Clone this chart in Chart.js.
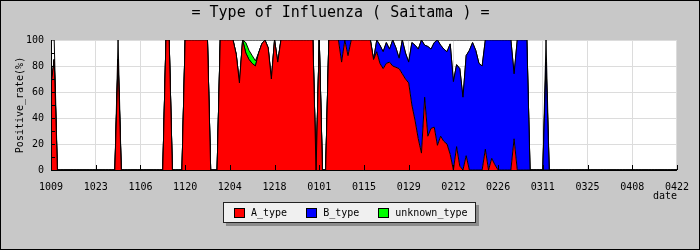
<!DOCTYPE html>
<html>
<head>
<meta charset="utf-8">
<script src="https://cdn.jsdelivr.net/npm/chart.js@4.4.1/dist/chart.umd.min.js"></script>
<style>
  html, body { margin: 0; padding: 0; background: #c8c8c8; }
  #wrap { position: relative; width: 700px; height: 250px; }
  #chart { position: absolute; left: 0; top: 0; }
  #legend {
    position: absolute; left: 223px; top: 202px; width: 241px; height: 19px;
    background: #f0f0f0; border: 1px solid #222; box-shadow: 3px 3px 0 #8c8c8c;
    display: flex; align-items: center; padding-left: 10px; box-sizing: content-box;
    font: 10px 'DejaVu Sans Mono', monospace; color: #000;
  }
  #legend .item { display: flex; align-items: center; margin-right: 19px; }
  #legend .box { width: 9px; height: 8px; border: 1px solid #000; margin-right: 6px; }
</style>
</head>
<body>
<div id="wrap">
  <canvas id="chart" width="700" height="250"></canvas>
  <div id="legend"></div>
</div>
<script>
// tick labels every 14 days, 2023-10-09 .. 2024-04-22
var tickLabels = ['1009', '1023', '1106', '1120', '1204', '1218', '0101',
                  '0115', '0129', '0212', '0226', '0311', '0325', '0408', '0422'];

// one value per day, one row per two weeks
var aType = [
  65, 85, 0, 0, 0, 0, 0, 0, 0, 0, 0, 0, 0, 0,
  0, 0, 0, 0, 0, 0, 0, 85, 0, 0, 0, 0, 0, 0,
  0, 0, 0, 0, 0, 0, 0, 0, 100, 100, 0, 0, 0, 0,
  100, 100, 100, 100, 100, 100, 100, 100, 0, 0, 0, 100, 100, 100,
  100, 100, 89, 67, 100, 90, 85, 82, 80, 90, 97, 100, 94, 70,
  100, 83, 100, 100, 100, 100, 100, 100, 100, 100, 100, 100, 100, 0,
  100, 0, 0, 100, 100, 100, 100, 83, 100, 88, 100, 100, 100, 100,
  100, 100, 100, 85, 91, 82, 78, 82, 83, 80, 79, 78, 74, 70,
  67, 50, 38, 24, 13, 56, 26, 32, 33, 19, 26, 22, 20, 12,
  0, 18, 3, 0, 11, 0, 0, 0, 0, 0, 16, 0, 9, 4,
  0, 0, 0, 0, 0, 24, 0, 0, 0, 0, 0, 0, 0, 0,
  0, 0, 0, 0, 0, 0, 0, 0, 0, 0, 0, 0, 0, 0,
  0, 0, 0, 0, 0, 0, 0, 0, 0, 0, 0, 0, 0, 0,
  0, 0, 0, 0, 0, 0, 0, 0, 0, 0, 0, 0, 0, 0,
  0
];

var bType = [
  0, 0, 0, 0, 0, 0, 0, 0, 0, 0, 0, 0, 0, 0,
  0, 0, 0, 0, 0, 0, 0, 0, 0, 0, 0, 0, 0, 0,
  0, 0, 0, 0, 0, 0, 0, 0, 0, 0, 0, 0, 0, 0,
  0, 0, 0, 0, 0, 0, 0, 0, 0, 0, 0, 0, 0, 0,
  0, 0, 0, 0, 0, 0, 0, 0, 0, 0, 0, 0, 0, 0,
  0, 0, 0, 0, 0, 0, 0, 0, 0, 0, 0, 0, 0, 0,
  0, 0, 0, 0, 0, 0, 0, 17, 0, 12, 0, 0, 0, 0,
  0, 0, 0, 0, 9, 14, 13, 16, 10, 20, 15, 8, 26, 20,
  16, 48, 58, 69, 87, 40, 69, 61, 65, 81, 70, 71, 71, 85,
  68, 63, 75, 56, 77, 92, 98, 92, 82, 80, 84, 100, 91, 96,
  100, 100, 100, 100, 100, 50, 100, 100, 100, 100, 0, 0, 0, 0,
  0, 83, 0, 0, 0, 0, 0, 0, 0, 0, 0, 0, 0, 0,
  0, 0, 0, 0, 0, 0, 0, 0, 0, 0, 0, 0, 0, 0,
  0, 0, 0, 0, 0, 0, 0, 0, 0, 0, 0, 0, 0, 0,
  0
];

var unknownType = [
  0, 0, 0, 0, 0, 0, 0, 0, 0, 0, 0, 0, 0, 0,
  0, 0, 0, 0, 0, 0, 0, 0, 0, 0, 0, 0, 0, 0,
  0, 0, 0, 0, 0, 0, 0, 0, 0, 0, 0, 0, 0, 0,
  0, 0, 0, 0, 0, 0, 0, 0, 0, 0, 0, 0, 0, 0,
  0, 0, 0, 0, 0, 8, 7, 6, 4, 0, 0, 0, 0, 0,
  0, 0, 0, 0, 0, 0, 0, 0, 0, 0, 0, 0, 0, 0,
  0, 0, 0, 0, 0, 0, 0, 0, 0, 0, 0, 0, 0, 0,
  0, 0, 0, 0, 0, 0, 0, 0, 0, 0, 0, 0, 0, 0,
  0, 0, 0, 0, 0, 0, 0, 0, 0, 0, 0, 0, 0, 0,
  0, 0, 0, 0, 0, 0, 0, 0, 0, 0, 0, 0, 0, 0,
  0, 0, 0, 0, 0, 0, 0, 0, 0, 0, 0, 0, 0, 0,
  0, 0, 0, 0, 0, 0, 0, 0, 0, 0, 0, 0, 0, 0,
  0, 0, 0, 0, 0, 0, 0, 0, 0, 0, 0, 0, 0, 0,
  0, 0, 0, 0, 0, 0, 0, 0, 0, 0, 0, 0, 0, 0,
  0
];

// days (first..last, counted from 1009) on which a report exists
var reportedDays = [[0, 1], [21, 21], [36, 37], [42, 49], [53, 82],
                    [84, 84], [87, 149], [155, 155]];

var seriesNames = ['A_type', 'B_type', 'unknown_type'];
var seriesColors = ['#ff0000', '#0000ff', '#00ff00'];

// x positions are day numbers from the first date
var days = aType.map(function (_, i) { return i; });

// outline of the 100% ceiling on reported days
var reportTop = days.map(function (d) {
  return reportedDays.some(function (r) { return d >= r[0] && d <= r[1]; }) ? 100 : 0;
});

var mono = "'DejaVu Sans Mono', monospace";
Chart.defaults.font.family = mono;
Chart.defaults.font.size = 10;
Chart.defaults.color = '#000';

// grey frame, white plot, black border round the picture
var framePlugin = {
  id: 'frame',
  beforeDraw: function (chart) {
    var ctx = chart.ctx, a = chart.chartArea;
    ctx.save();
    ctx.fillStyle = '#c8c8c8';
    ctx.fillRect(0, 0, chart.width, chart.height);
    ctx.fillStyle = '#ffffff';
    ctx.fillRect(a.left, a.top, a.right - a.left, a.bottom - a.top);
    ctx.restore();
  },
  afterDatasetsDraw: function (chart) {
    var ctx = chart.ctx, a = chart.chartArea;
    var x = chart.scales.x, y = chart.scales.y;
    ctx.save();
    ctx.strokeStyle = '#000';
    ctx.lineWidth = 1;
    ctx.beginPath();
    // inward tick marks
    for (var i = 0; i < tickLabels.length; i++) {
      var px = Math.round(x.getPixelForValue(i * 14)) + 0.5;
      ctx.moveTo(px, a.bottom);
      ctx.lineTo(px, a.bottom - 5);
    }
    for (var v = 10; v < 100; v += 10) {
      var py = Math.round(y.getPixelForValue(v)) + 0.5;
      ctx.moveTo(a.left, py);
      ctx.lineTo(a.left + 4, py);
    }
    // axes
    ctx.moveTo(Math.round(a.left) + 0.5, a.top);
    ctx.lineTo(Math.round(a.left) + 0.5, a.bottom);
    ctx.moveTo(a.left, Math.round(a.bottom) + 0.5);
    ctx.lineTo(a.right, Math.round(a.bottom) + 0.5);
    ctx.stroke();
    ctx.strokeRect(0.5, 0.5, chart.width - 1, chart.height - 1);
    ctx.restore();
  }
};

var datasets = [aType, bType, unknownType].map(function (values, i) {
  return {
    label: seriesNames[i],
    data: values,
    backgroundColor: seriesColors[i],
    borderColor: '#000',
    borderWidth: 1,
    fill: i === 0 ? 'origin' : '-1',
    pointRadius: 0,
    tension: 0
  };
});
datasets.push({
  label: 'top',
  data: reportTop,
  stack: 'top',
  borderColor: '#000',
  borderWidth: 1,
  fill: false,
  pointRadius: 0,
  tension: 0
});

new Chart(document.getElementById('chart'), {
  type: 'line',
  data: { labels: days, datasets: datasets },
  plugins: [framePlugin],
  options: {
    responsive: false,
    animation: false,
    layout: { padding: { left: 0, right: 19, top: 0, bottom: 40 } },
    plugins: {
      legend: { display: false },
      tooltip: { enabled: false },
      title: {
        display: true,
        text: '= Type of Influenza ( Saitama ) =',
        font: { family: mono, size: 15, weight: 'normal' },
        color: '#000',
        padding: { top: 4, bottom: 18 }
      }
    },
    scales: {
      x: {
        type: 'linear',
        min: 0,
        max: 196,
        afterFit: function (scale) { scale.height = 40; },
        ticks: {
          stepSize: 14,
          autoSkip: false,
          maxRotation: 0,
          padding: 11,
          callback: function (value) { return tickLabels[value / 14]; }
        },
        grid: { color: '#dcdcdc', drawTicks: false },
        border: { display: false },
        title: {
          display: true,
          text: 'date',
          align: 'end',
          font: { family: mono, size: 10 },
          padding: { top: 0, bottom: 8 }
        }
      },
      y: {
        stacked: true,
        min: 0,
        max: 100,
        afterFit: function (scale) { scale.width = 51; },
        ticks: { stepSize: 20, padding: 7 },
        grid: { color: '#dcdcdc', drawTicks: false },
        border: { display: false },
        title: {
          display: true,
          text: 'Positive_rate(%)',
          font: { family: mono, size: 10 },
          padding: { top: 14, bottom: 0 }
        }
      }
    }
  }
});

// legend drawn as plain page text
var legend = document.getElementById('legend');
seriesNames.forEach(function (name, i) {
  var item = document.createElement('div');
  item.className = 'item';
  var box = document.createElement('span');
  box.className = 'box';
  box.style.background = seriesColors[i];
  var label = document.createElement('span');
  label.textContent = name;
  item.appendChild(box);
  item.appendChild(label);
  legend.appendChild(item);
});
</script>
</body>
</html>
